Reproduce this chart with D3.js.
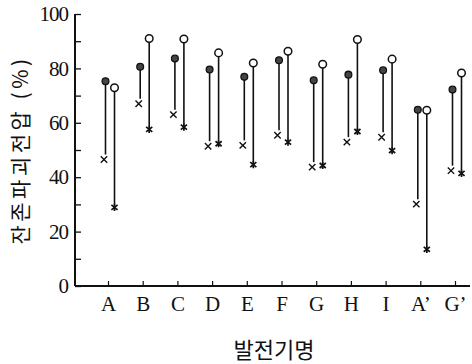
<!DOCTYPE html>
<html>
<head>
<meta charset="utf-8">
<script src="https://cdn.jsdelivr.net/npm/d3@7"></script>
<style>
  html, body { margin: 0; padding: 0; background: #fff; }
  svg { display: block; }
</style>
</head>
<body>
<script>
// Plants (발전기) and residual breakdown voltage (%) before / after for two test groups
const plants = ["A", "B", "C", "D", "E", "F", "G", "H", "I", "A'", "G'"];
// group 1: filled circle (top) → × (bottom)
const group1Top    = [75.3, 80.6, 83.6, 79.6, 76.9, 83.0, 75.6, 77.7, 79.3, 64.8, 72.2];
const group1Bottom = [46.5, 67.0, 63.0, 51.4, 51.7, 55.4, 43.7, 52.9, 54.7, 30.1, 42.4];
// group 2: open circle (top) → asterisk (bottom)
const group2Top    = [72.9, 91.0, 90.8, 85.7, 82.0, 86.3, 81.5, 90.6, 83.4, 64.6, 78.3];
const group2Bottom = [28.9, 57.6, 58.4, 52.3, 44.6, 52.9, 44.3, 56.8, 49.8, 13.5, 41.4];
const yTicks = [0, 10, 20, 30, 40, 50, 60, 70, 80, 90, 100];
const yTickLabels = [0, 20, 40, 60, 80, 100];

const W = 472, H = 364;
const axisX = 75, axisY = 286, xEnd = 470;
const serif = "'Liberation Serif', 'DejaVu Serif', serif";
const kr = "'Noto Sans CJK KR', sans-serif";
const ink = "#111";

const svg = d3.select("body").append("svg").attr("width", W).attr("height", H);

const y = d3.scaleLinear().domain([0, 100]).range([axisY, 14]);
const x = d3.scalePoint().domain(plants).range([108, 455]);

// Y axis: ticks every 10 pointing inward, labels every 20
const yAxis = d3.axisLeft(y)
  .tickValues(yTicks)
  .tickSize(-6)
  .tickPadding(7)
  .tickFormat(d => yTickLabels.includes(d) ? d : "");
const gy = svg.append("g").attr("transform", `translate(${axisX},0)`).call(yAxis);
gy.select(".domain").remove();
gy.selectAll(".tick line").attr("stroke", ink).attr("stroke-width", 1.3);
gy.selectAll(".tick text")
  .attr("fill", ink).attr("font-family", serif).attr("font-size", 21)
  .attr("letter-spacing", -1);

// X axis: small upward ticks under each plant
const xAxis = d3.axisBottom(x).tickSize(-5).tickPadding(10)
  .tickFormat(d => d.replace("'", "’"));
const gx = svg.append("g").attr("transform", `translate(0,${axisY})`).call(xAxis);
gx.select(".domain").remove();
gx.selectAll(".tick line").attr("stroke", ink).attr("stroke-width", 1.2);
gx.selectAll(".tick text")
  .attr("fill", ink).attr("font-family", serif).attr("font-size", 21);

// Axis lines
svg.append("line").attr("x1", axisX).attr("x2", axisX).attr("y1", y(100)).attr("y2", axisY)
  .attr("stroke", ink).attr("stroke-width", 2);
svg.append("line").attr("x1", axisX).attr("x2", xEnd).attr("y1", axisY).attr("y2", axisY)
  .attr("stroke", ink).attr("stroke-width", 1.8);

// Axis titles
svg.append("text")
  .attr("transform", `translate(28,150) rotate(-90)`)
  .attr("text-anchor", "middle")
  .attr("font-family", kr).attr("font-size", 21).attr("letter-spacing", 3.5)
  .attr("fill", ink)
  .text("잔존파괴전압 (%)");
svg.append("text")
  .attr("x", 274).attr("y", 358)
  .attr("text-anchor", "middle")
  .attr("font-family", kr).attr("font-size", 22)
  .attr("fill", ink)
  .text("발전기명");

const rows = plants.map((p, i) => ({
  p, t1: group1Top[i], b1: group1Bottom[i], t2: group2Top[i], b2: group2Bottom[i]
}));
const off1 = -2.5, off2 = 6.5;

const g = svg.append("g");

// Stems
g.selectAll(".stem1").data(rows).join("line")
  .attr("x1", d => x(d.p) + off1).attr("x2", d => x(d.p) + off1)
  .attr("y1", d => y(d.t1)).attr("y2", d => y(d.b1) - 5)
  .attr("stroke", ink).attr("stroke-width", 1.6);
g.selectAll(".stem2").data(rows).join("line")
  .attr("x1", d => x(d.p) + off2).attr("x2", d => x(d.p) + off2)
  .attr("y1", d => y(d.t2)).attr("y2", d => y(d.b2) - 3)
  .attr("stroke", ink).attr("stroke-width", 1.6);

// × markers (group 1 bottom)
const s = 3.2;
g.selectAll(".times").data(rows).join("path")
  .attr("d", d => {
    const cx = x(d.p) + off1 - 1.5, cy = y(d.b1);
    return `M${cx - s},${cy - s}L${cx + s},${cy + s}M${cx + s},${cy - s}L${cx - s},${cy + s}`;
  })
  .attr("stroke", ink).attr("stroke-width", 1.4).attr("fill", "none");

// asterisk markers (group 2 bottom)
g.selectAll(".aster").data(rows).join("path")
  .attr("d", d => {
    const cx = x(d.p) + off2, cy = y(d.b2), r = 3.6, a = 3.1;
    return `M${cx - a},${cy - a * 0.8}L${cx + a},${cy + a * 0.8}` +
           `M${cx + a},${cy - a * 0.8}L${cx - a},${cy + a * 0.8}` +
           `M${cx},${cy - r}L${cx},${cy + r}`;
  })
  .attr("stroke", ink).attr("stroke-width", 1.7).attr("fill", "none");

// filled circles (group 1 top)
g.selectAll(".dot1").data(rows).join("circle")
  .attr("cx", d => x(d.p) + off1).attr("cy", d => y(d.t1)).attr("r", 3.4)
  .attr("fill", "#444").attr("stroke", ink).attr("stroke-width", 1.3);

// open circles (group 2 top)
g.selectAll(".dot2").data(rows).join("circle")
  .attr("cx", d => x(d.p) + off2).attr("cy", d => y(d.t2)).attr("r", 3.8)
  .attr("fill", "#fff").attr("stroke", ink).attr("stroke-width", 1.5);
</script>
</body>
</html>
